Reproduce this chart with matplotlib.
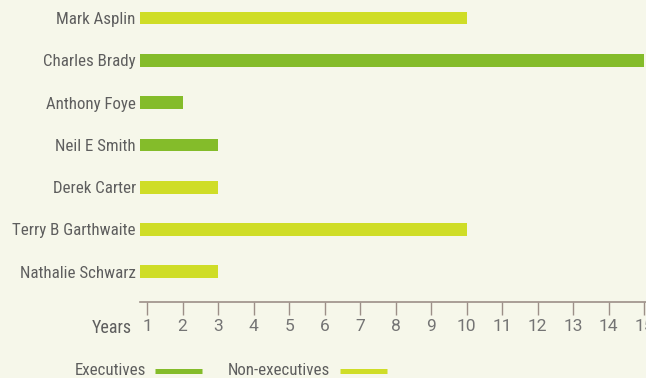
import matplotlib
matplotlib.use("Agg")
import matplotlib.pyplot as plt
from matplotlib import font_manager

names = ["Mark Asplin", "Charles Brady", "Anthony Foye", "Neil E Smith",
         "Derek Carter", "Terry B Garthwaite", "Nathalie Schwarz"]
years = [10, 15, 2, 3, 3, 10, 3]
role = ["Non-executives", "Executives", "Executives", "Executives",
        "Non-executives", "Non-executives", "Non-executives"]
ticks = list(range(1, 16))

colors = {"Executives": "#84BC2A", "Non-executives": "#CFDD27"}
bg = "#F6F7EA"
txt = "#5E5E5E"
axc = "#9C8F88"

fams = set(f.name for f in font_manager.fontManager.ttflist)
condensed = None
for c in ["Roboto Condensed", "Liberation Sans Narrow", "Open Sans Condensed"]:
    if c in fams:
        condensed = c
        break
if condensed:
    fam, nsize, ysize = condensed, 12.2, 13
else:
    fam, nsize, ysize = "Roboto", 10.8, 11.5
tfam, tsize = "Roboto", 12.5

W, H = 646, 378
fig = plt.figure(figsize=(W / 100, H / 100), dpi=100, facecolor=bg)
ax = fig.add_axes([140 / W, (H - 302) / H, (W - 140) / W, 302 / H])
ax.set_facecolor(bg)

x0 = 0.8
for i, (n, v, r) in enumerate(zip(names, years, role)):
    ax.barh(i, v - x0, left=x0, height=0.30, color=colors[r])

ax.set_xlim(x0, 15.05)
ax.set_ylim(6.714, -0.4255)
ax.set_yticks(range(len(names)))
ax.set_yticklabels(names, fontsize=nsize, color=txt, family=fam)
ax.tick_params(axis="y", length=0, pad=3)
ax.set_xticks(ticks)
ax.set_xticklabels([str(t) for t in ticks], fontsize=tsize, color="#747474",
                   family=tfam)
ax.tick_params(axis="x", length=9.4, width=1, color=axc, pad=2.5)
for s in ["top", "right", "left"]:
    ax.spines[s].set_visible(False)
ax.spines["bottom"].set_color(axc)
ax.spines["bottom"].set_linewidth(1.2)

fig.text(112 / W, 1 - 333 / H, "Years", ha="center", va="baseline",
         fontsize=ysize, color=txt, family=fam)

# legend
fig.text(110 / W, 1 - 375 / H, "Executives", ha="center", va="baseline",
         fontsize=nsize, color=txt, family=fam)
fig.add_artist(plt.Line2D([155 / W, 202 / W], [1 - 370.5 / H] * 2,
                          color=colors["Executives"], lw=3.6, solid_capstyle="butt"))
fig.text(279 / W, 1 - 375 / H, "Non-executives", ha="center", va="baseline",
         fontsize=nsize, color=txt, family=fam)
fig.add_artist(plt.Line2D([340 / W, 387 / W], [1 - 370.5 / H] * 2,
                          color=colors["Non-executives"], lw=3.6, solid_capstyle="butt"))

fig.savefig("out.png", dpi=100, facecolor=bg)
